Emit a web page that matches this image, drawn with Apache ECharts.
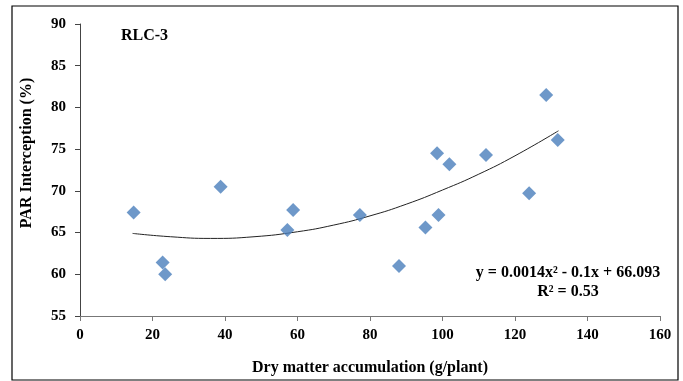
<!DOCTYPE html>
<html lang="en">
<head>
    <meta charset="UTF-8">
    <title>RLC-3</title>
    <style type="text/css">
        html, body { margin: 0; padding: 0; background: #fff; }
        #main { width: 683px; height: 381px; }
    </style>
</head>
<body>
<div id="main"></div>
<script type="text/javascript" src="https://cdn.jsdelivr.net/npm/echarts@6/dist/echarts.min.js"></script>
<script type="text/javascript">
    // dry matter (g/plant) vs PAR interception (%)
    var dryMatter = [14.8, 22.8, 23.5, 38.8, 57.2, 58.8, 77.2, 88.0, 95.3, 98.5, 98.9, 101.9, 112.0, 123.9, 128.6, 131.8];
    var parInterception = [67.4, 61.4, 60.0, 70.5, 65.3, 67.7, 67.1, 61.0, 65.6, 74.5, 67.1, 73.2, 74.3, 69.7, 81.5, 76.1];

    // trend line
    var trendX = [14.5, 25, 36, 48, 60, 70, 80, 90, 100, 110, 120, 132];
    var trendY = [64.9, 64.5, 64.3, 64.5, 65.1, 65.9, 67.0, 68.4, 70.1, 72.0, 74.2, 77.2];

    var xTicks = [0, 160, 20];
    var yTicks = [55, 90, 5];

    var font = '"Liberation Serif", "Times New Roman", serif';

    var myChart = echarts.init(document.getElementById('main'));
    var option = {
        animation: false,
        grid: { left: 80, right: 23, top: 24, bottom: 61 },
        xAxis: {
            type: 'value',
            min: xTicks[0], max: xTicks[1], interval: xTicks[2],
            name: 'Dry matter accumulation (g/plant)',
            nameLocation: 'middle',
            nameGap: 44,
            nameTextStyle: { fontFamily: font, fontWeight: 'bold', fontSize: 16, color: '#000' },
            axisLine: { lineStyle: { color: '#777', width: 1 } },
            axisTick: { show: true, length: 5, lineStyle: { color: '#777' } },
            axisLabel: { margin: 12, fontFamily: font, fontWeight: 'bold', fontSize: 15, color: '#000' },
            splitLine: { show: false }
        },
        yAxis: {
            type: 'value',
            min: yTicks[0], max: yTicks[1], interval: yTicks[2],
            axisLine: { show: true, lineStyle: { color: '#444', width: 1 } },
            axisTick: { show: true, length: 5, lineStyle: { color: '#444' } },
            axisLabel: { margin: 14, fontFamily: font, fontWeight: 'bold', fontSize: 15, color: '#000' },
            splitLine: { show: false }
        },
        series: [
            {
                type: 'line',
                data: trendX.map(function (x, i) { return [x, trendY[i]]; }),
                smooth: true,
                showSymbol: false,
                lineStyle: { color: '#222', width: 1 },
                z: 1
            },
            {
                type: 'scatter',
                data: dryMatter.map(function (x, i) { return [x, parInterception[i]]; }),
                symbol: 'diamond',
                symbolSize: 14,
                itemStyle: { color: '#4a7ebb' },
                z: 2
            }
        ],
        graphic: [
            {
                type: 'rect',
                shape: { x: 12, y: 6, width: 666, height: 374 },
                style: { fill: 'none', stroke: '#000', lineWidth: 1.2 },
                silent: true
            },
            {
                type: 'text',
                x: 27, y: 153,
                rotation: Math.PI / 2,
                style: {
                    text: 'PAR Interception (%)',
                    font: 'bold 16px ' + font,
                    fill: '#000',
                    align: 'center',
                    verticalAlign: 'middle'
                }
            },
            {
                type: 'text',
                left: 121, top: 28,
                style: { text: 'RLC-3', font: 'bold 16px ' + font, fill: '#000' }
            },
            {
                type: 'text',
                x: 568, y: 263,
                style: {
                    text: 'y = 0.0014x² - 0.1x + 66.093\nR² = 0.53',
                    font: 'bold 16px ' + font,
                    fill: '#000',
                    align: 'center',
                    lineHeight: 19
                }
            }
        ]
    };
    myChart.setOption(option);
</script>
</body>
</html>
